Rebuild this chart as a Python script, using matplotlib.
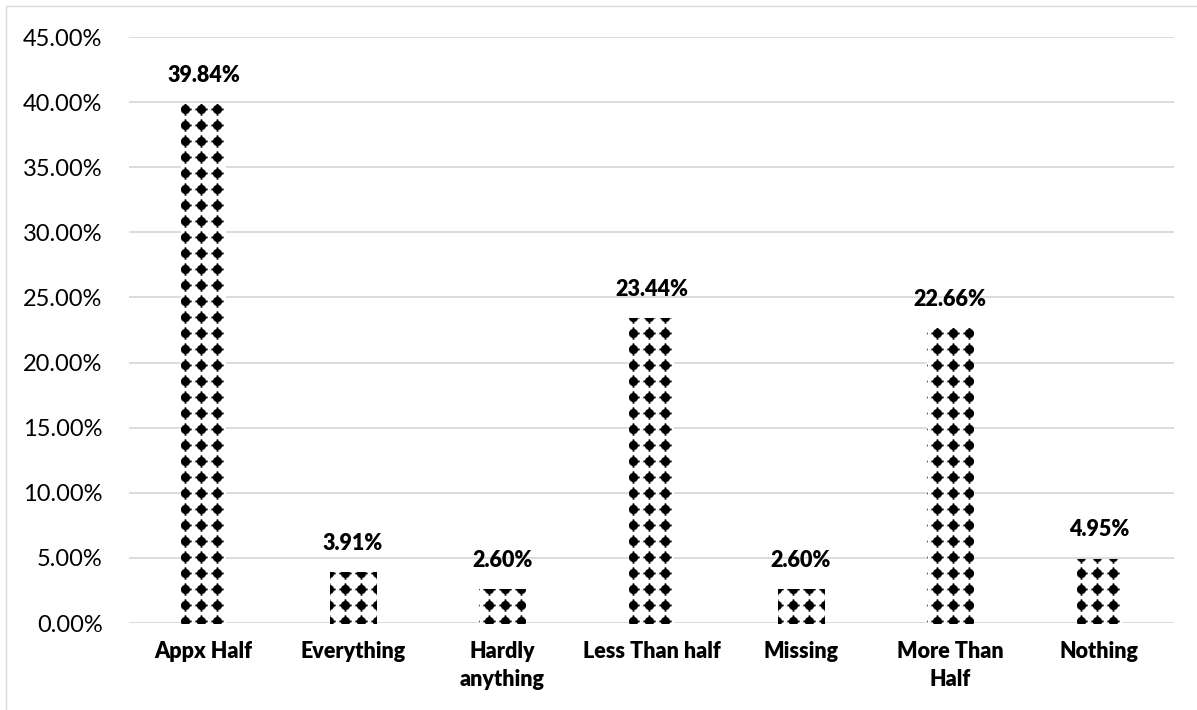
import numpy as np
import matplotlib
matplotlib.use("Agg")
import matplotlib.pyplot as plt
from matplotlib.path import Path
from matplotlib.patches import Rectangle
from matplotlib.transforms import IdentityTransform

categories = ["Appx Half", "Everything", "Hardly\nanything", "Less Than half",
              "Missing", "More Than\nHalf", "Nothing"]
shares = [39.84, 3.91, 2.60, 23.44, 2.60, 22.66, 4.95]
value_labels = ["39.84%", "3.91%", "2.60%", "23.44%", "2.60%", "22.66%", "4.95%"]
y_ticks = [0, 5, 10, 15, 20, 25, 30, 35, 40, 45]
y_tick_labels = ["0.00%", "5.00%", "10.00%", "15.00%", "20.00%", "25.00%",
                 "30.00%", "35.00%", "40.00%", "45.00%"]

plt.rcParams["font.family"] = ["Lato", "DejaVu Sans"]

W, H, DPI = 1197, 710, 100
fig = plt.figure(figsize=(W / DPI, H / DPI), dpi=DPI)
fig.patch.set_facecolor("white")

# chart-area frame
fig.patches.append(Rectangle((6 / W, -0.1), 1.2, (H - 6) / H + 0.1,
                             transform=fig.transFigure, fill=False,
                             edgecolor="#d9d9d9", linewidth=1.0))

ax = fig.add_axes([129 / W, (H - 623) / H, (1174 - 129) / W, (623 - 37) / H])
ax.set_xlim(-0.5, len(categories) - 0.5)
ax.set_ylim(0, 45)
for s in ax.spines.values():
    s.set_visible(False)
ax.set_yticks(y_ticks)
ax.set_yticklabels(y_tick_labels, fontsize=17, color="#000000")
ax.tick_params(axis="y", length=0, pad=19)
ax.set_xticks(range(len(categories)))
ax.set_xticklabels(categories, fontsize=15.5, fontweight="heavy", linespacing=1.4)
ax.tick_params(axis="x", length=0, pad=13)
ax.yaxis.grid(True, color="#d9d9d9", linewidth=1.3)
ax.set_axisbelow(True)

x = np.arange(len(categories))
bars = ax.bar(x, shares, width=0.305, color="white", edgecolor="none", zorder=2)

# dotted fill texture: a pixel-aligned grid of rounded diamonds with small arms
quad = [(1.0, 0.0), (1.0, 0.12), (0.72, 0.18), (0.62, 0.42), (0.42, 0.62),
        (0.18, 0.72), (0.12, 1.0), (0.0, 1.0)]
pts = []
for sx, sy in [(1, 1), (-1, 1), (-1, -1), (1, -1)]:
    seq = quad if sx * sy > 0 else quad[::-1]
    pts.extend([(sx * a, sy * b) for a, b in seq])
pts.append(pts[0])
codes = [Path.MOVETO] + [Path.LINETO] * (len(pts) - 2) + [Path.CLOSEPOLY]
dot = Path(pts, codes)

fig.canvas.draw()
period = 16.0
x0_px, y0_img = 185.0, 157.0
for bar in bars:
    (bx0, by0), (bx1, by1) = ax.transData.transform(
        [(bar.get_x(), 0), (bar.get_x() + bar.get_width(), bar.get_height())])
    kx = np.arange(np.floor((bx0 - x0_px) / period) - 1,
                   np.ceil((bx1 - x0_px) / period) + 2)
    y0_disp = H - y0_img
    ky = np.arange(np.floor((by0 - y0_disp) / period) - 1,
                   np.ceil((by1 - y0_disp) / period) + 2)
    gx, gy = np.meshgrid(x0_px + kx * period, y0_disp + ky * period)
    sc = ax.scatter(gx.ravel(), gy.ravel(), s=80, marker=dot, c="black",
                    linewidths=0, transform=IdentityTransform(), zorder=3)
    sc.set_clip_path(bar)

for xi, v, lab in zip(x, shares, value_labels):
    ax.annotate(lab, (xi, v), xytext=(0, 16), textcoords="offset points",
                ha="center", va="baseline", fontsize=15.5, fontweight="heavy")

fig.savefig("out.png", dpi=DPI)
